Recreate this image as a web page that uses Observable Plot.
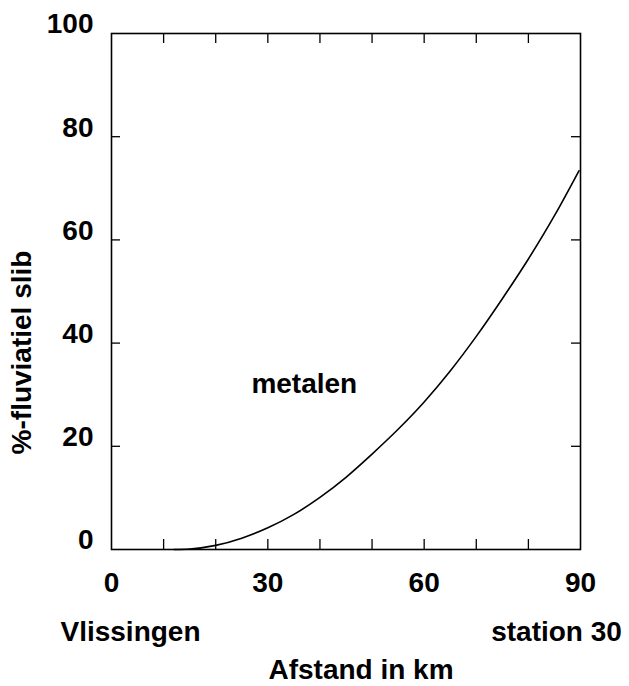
<!DOCTYPE html>
<html><head><meta charset="utf-8">
<script src="https://cdn.jsdelivr.net/npm/d3@7"></script>
<script src="https://cdn.jsdelivr.net/npm/@observablehq/plot@0.6"></script>
<style>body{margin:0;background:#fff;}</style>
</head><body><div id="chart"></div>
<script>
const distanceKm = [12, 15, 20, 25, 30, 35, 40, 45, 50, 55, 60, 65, 70, 75, 80, 85, 89.7];
const fluvialPct = [0, 0.1, 0.8, 2.2, 4.2, 6.8, 10.1, 14.0, 18.5, 23.3, 28.6, 34.6, 41.3, 48.6, 56.3, 64.7, 73.4];
const xTickLabels = [0, 30, 60, 90];
const xMinorTicks = [10, 20, 30, 40, 50, 60, 70, 80];
const yTickLabels = [0, 20, 40, 60, 80, 100];
const yMinorTicks = [20, 40, 60, 80];
const curveLabels = [{x: 37, y: 32, text: "metalen"}];
const startLabel = "Vlissingen";
const endLabel = "station 30";
const xLabel = "Afstand in km";
const yLabel = "%-fluviatiel slib";

const W = 629, H = 686, mL = 111, mR = 49, mT = 33, mB = 137;
const innerW = W - mL - mR, innerH = H - mT - mB;
const series = distanceKm.map((d, i) => ({x: d, y: fluvialPct[i]}));

const chart = Plot.plot({
  width: W, height: H,
  marginLeft: mL, marginRight: mR, marginTop: mT, marginBottom: mB,
  x: {domain: [0, 90], axis: null},
  y: {domain: [0, 100], axis: null},
  style: {fontFamily: "'Liberation Sans', Arial, sans-serif", fontSize: "28px", fontWeight: "bold", color: "#000", background: "#fff"},
  marks: [
    Plot.frame({stroke: "#000", strokeWidth: 1.6}),
    Plot.ruleX(xMinorTicks, {insetTop: innerH - 10, stroke: "#000", strokeWidth: 1.3}),
    Plot.ruleX(xMinorTicks, {insetBottom: innerH - 10, stroke: "#000", strokeWidth: 1.3}),
    Plot.ruleY(yMinorTicks, {insetRight: innerW - 9, stroke: "#000", strokeWidth: 1.3}),
    Plot.ruleY(yMinorTicks, {insetLeft: innerW - 9, stroke: "#000", strokeWidth: 1.3}),
    Plot.axisX(xTickLabels, {tickSize: 0, tickPadding: 23, fontSize: 28, label: null}),
    Plot.axisY(yTickLabels, {tickSize: 0, tickPadding: 18, dy: -9, fontSize: 28, label: null}),
    Plot.line(series, {x: "x", y: "y", curve: "monotone-x", stroke: "#000", strokeWidth: 1.6}),
    Plot.text(curveLabels, {x: "x", y: "y", text: "text", fontSize: 28}),
    Plot.text([startLabel], {frameAnchor: "bottom-left", textAnchor: "middle", text: d => d, dx: 19, dy: 91, fontSize: 28}),
    Plot.text([endLabel], {frameAnchor: "bottom-right", textAnchor: "middle", text: d => d, dx: -24, dy: 91, fontSize: 28}),
    Plot.text([xLabel], {frameAnchor: "bottom", text: d => d, dx: 15, dy: 129, fontSize: 28}),
    Plot.text([yLabel], {frameAnchor: "left", textAnchor: "middle", text: d => d, rotate: -90, dx: -89, dy: 61, fontSize: 28})
  ]
});
document.getElementById("chart").appendChild(chart);
</script>
</body></html>
